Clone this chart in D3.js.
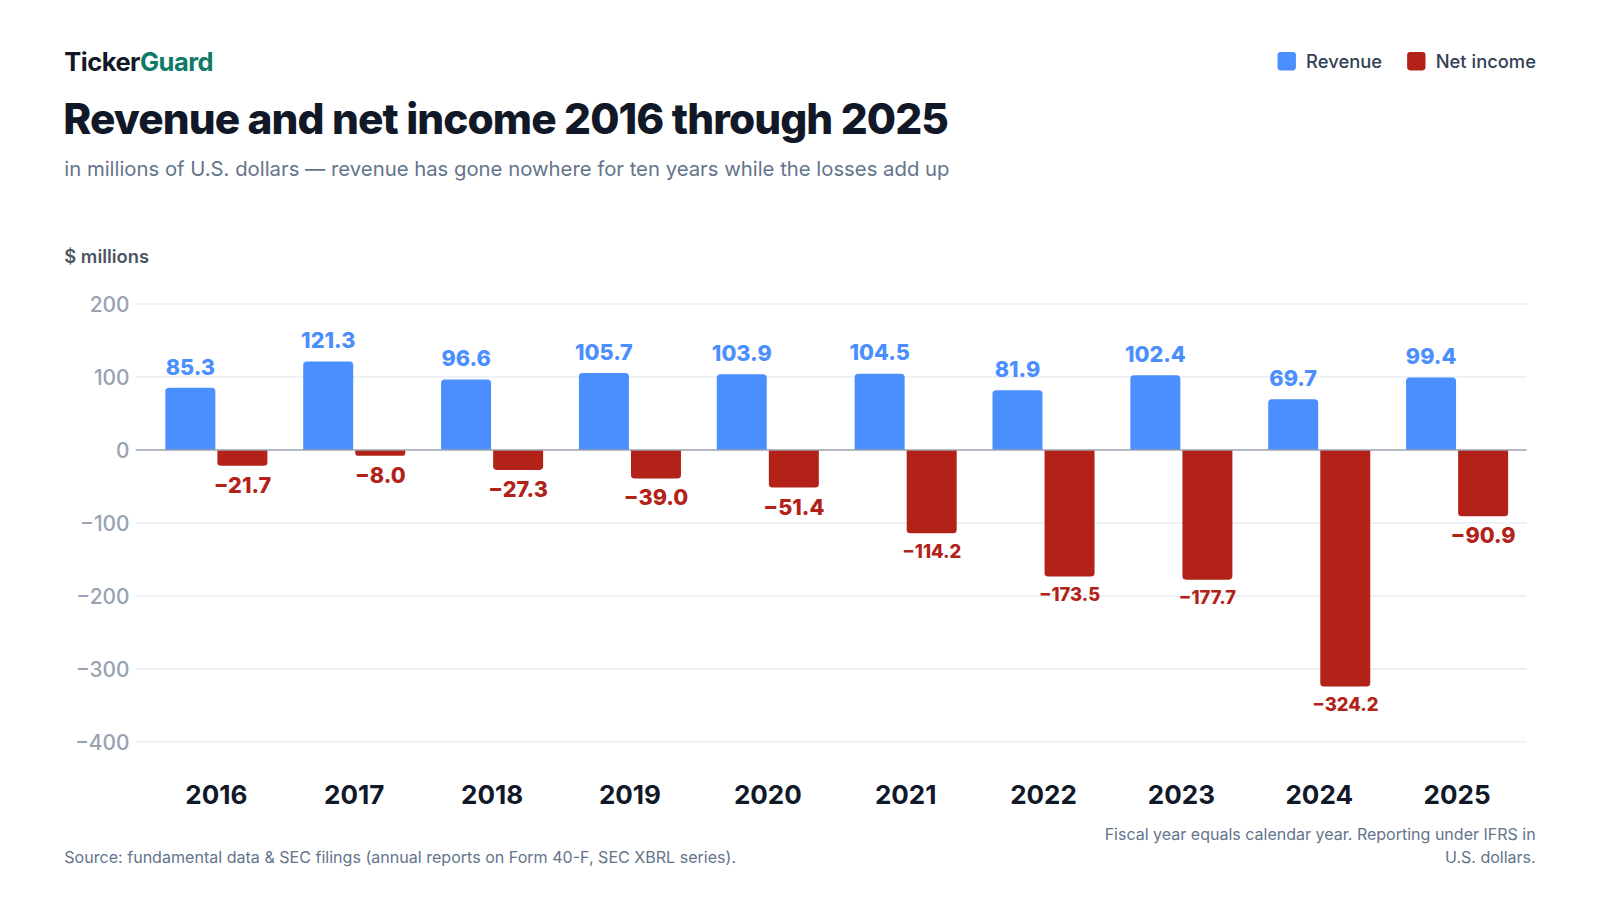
<!DOCTYPE html>
<html>
<head>
<meta charset="utf-8">
<script src="https://cdn.jsdelivr.net/npm/d3@7/dist/d3.min.js"></script>
<style>
  html, body { margin: 0; padding: 0; background: #ffffff; }
  svg { display: block; font-family: Inter, "Noto Sans", sans-serif; }
</style>
</head>
<body>
<svg id="chart" width="1600" height="900"></svg>
<script>
const years = ["2016","2017","2018","2019","2020","2021","2022","2023","2024","2025"];
const revenue = [85.3, 121.3, 96.6, 105.7, 103.9, 104.5, 81.9, 102.4, 69.7, 99.4];
const netIncome = [-21.7, -8.0, -27.3, -39.0, -51.4, -114.2, -173.5, -177.7, -324.2, -90.9];
const seriesNames = ["Revenue", "Net income"];
const yTicks = [200, 100, 0, -100, -200, -300, -400];

const colors = { "Revenue": "#4b8efd", "Net income": "#b22219" };
const K = 1600 / 1568;
const svg = d3.select("#chart").append("g").attr("transform", `scale(${K})`);

const y = d3.scaleLinear().domain([-400, 200]).range([727, 298]);
const x = d3.scaleBand().domain(years).range([144.5, 1495.5]).padding(0);
const inner = d3.scaleBand().domain(seriesNames).range([0, 100]).paddingInner(0.04);

// Header
const brand = svg.append("text").attr("x", 63).attr("y", 70)
  .attr("font-size", 25).attr("font-weight", 700).attr("letter-spacing", -0.5);
brand.append("tspan").attr("fill", "#111827").text("Ticker");
brand.append("tspan").attr("fill", "#0f7a68").text("Guard");

svg.append("text").attr("x", 62).attr("y", 131)
  .attr("font-size", 41.5).attr("font-weight", 800).attr("fill", "#111827").attr("letter-spacing", -0.88)
  .text("Revenue and net income 2016 through 2025");

svg.append("text").attr("x", 63).attr("y", 172)
  .attr("font-size", 19.9).attr("fill", "#64748b")
  .text("in millions of U.S. dollars \u2014 revenue has gone nowhere for ten years while the losses add up");

// Legend
const legendItems = [
  { name: "Revenue", x: 1252 },
  { name: "Net income", x: 1379 }
];
legendItems.forEach(d => {
  svg.append("rect").attr("x", d.x).attr("y", 51).attr("width", 18).attr("height", 18)
    .attr("rx", 3).attr("fill", colors[d.name]);
  svg.append("text").attr("x", d.x + 28).attr("y", 67)
    .attr("font-size", 18).attr("font-weight", 500).attr("fill", "#334155").text(d.name);
});

// Y axis label
svg.append("text").attr("x", 63).attr("y", 258)
  .attr("font-size", 18).attr("font-weight", 600).attr("fill", "#4b5563").text("$ millions");

// Gridlines
svg.append("g").selectAll("line").data(yTicks.filter(t => t !== 0)).join("line")
  .attr("x1", 133).attr("x2", 1496)
  .attr("y1", d => y(d)).attr("y2", d => y(d))
  .attr("stroke", "#e9edf2").attr("stroke-width", 1.5);

// Y axis tick labels
const yAxis = d3.axisLeft(y).tickValues(yTicks).tickSize(0).tickPadding(0)
  .tickFormat(d => d < 0 ? "\u2212" + Math.abs(d) : String(d));
const yg = svg.append("g").attr("transform", "translate(127,0)").call(yAxis);
yg.select(".domain").remove();
yg.selectAll("text").attr("font-size", 20.5).attr("font-weight", 500).attr("fill", "#98a2b3")
  .attr("font-family", "Inter, sans-serif").attr("dy", "0.35em");

// Bar path with rounded outer end
function barPath(x0, w, yBase, yEnd, r) {
  const h = Math.abs(yEnd - yBase);
  r = Math.min(r, h / 2, w / 2);
  if (yEnd < yBase) {
    return `M${x0},${yBase} V${yEnd + r} Q${x0},${yEnd} ${x0 + r},${yEnd} H${x0 + w - r} Q${x0 + w},${yEnd} ${x0 + w},${yEnd + r} V${yBase} Z`;
  } else {
    return `M${x0},${yBase} V${yEnd - r} Q${x0},${yEnd} ${x0 + r},${yEnd} H${x0 + w - r} Q${x0 + w},${yEnd} ${x0 + w},${yEnd - r} V${yBase} Z`;
  }
}

const data = years.map((yr, i) => ({ year: yr, values: [
  { name: "Revenue", value: revenue[i] },
  { name: "Net income", value: netIncome[i] }
]}));

const groups = svg.append("g").selectAll("g").data(data).join("g")
  .attr("transform", d => `translate(${x(d.year) + (x.bandwidth() - 100) / 2},0)`);

groups.selectAll("path").data(d => d.values).join("path")
  .attr("d", d => barPath(inner(d.name), inner.bandwidth(), y(0), y(d.value), 3.5))
  .attr("fill", d => colors[d.name]);

const fmt = v => (v < 0 ? "\u2212" : "") + Math.abs(v).toFixed(1);
const labelSize = d => (d.value <= -100 ? 18 : 21.2);

groups.selectAll("text.val").data(d => d.values).join("text")
  .attr("class", "val")
  .attr("text-anchor", "middle")
  .attr("x", d => inner(d.name) + inner.bandwidth() / 2)
  .attr("font-weight", 800)
  .attr("fill", d => colors[d.name])
  .attr("font-size", labelSize)
  .attr("y", d => {
    if (d.value >= 0) return y(d.value) - 13;
    return y(d.value) + 11 + labelSize(d) * 0.73;
  })
  .text(d => fmt(d.value));

// Zero line
svg.append("line").attr("x1", 133).attr("x2", 1496).attr("y1", y(0)).attr("y2", y(0))
  .attr("stroke", "#9aa3b2").attr("stroke-width", 1.5);

// X axis labels
const xAxis = d3.axisBottom(x).tickSize(0).tickPadding(0);
const xg = svg.append("g").attr("transform", "translate(0,788)").call(xAxis);
xg.select(".domain").remove();
xg.selectAll("text").attr("font-size", 25.5).attr("font-weight", 700).attr("fill", "#111827")
  .attr("font-family", "Inter, sans-serif").attr("dy", 0);

// Footer
svg.append("text").attr("x", 63).attr("y", 846)
  .attr("font-size", 15.75).attr("fill", "#64748b")
  .text("Source: fundamental data & SEC filings (annual reports on Form 40-F, SEC XBRL series).");
const note = svg.append("text").attr("text-anchor", "end")
  .attr("font-size", 15.7).attr("fill", "#64748b");
note.append("tspan").attr("x", 1505).attr("y", 823).text("Fiscal year equals calendar year. Reporting under IFRS in");
note.append("tspan").attr("x", 1505).attr("y", 846).text("U.S. dollars.");
</script>
</body>
</html>
